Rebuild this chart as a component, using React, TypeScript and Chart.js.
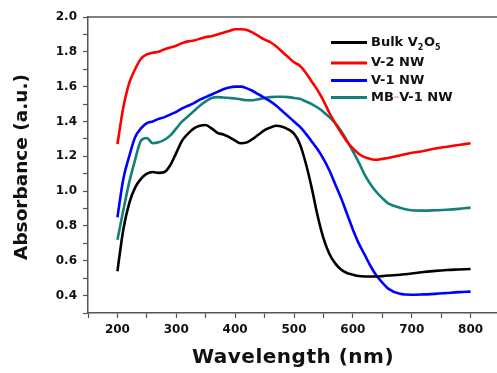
import React, { useEffect, useRef } from "react";
import { Chart, registerables } from "chart.js";

Chart.register(...registerables);

const wavelengths = [
  200, 210, 220, 230, 240, 250, 260, 270, 280, 290, 300, 310, 320, 330, 340, 350, 360, 370, 380, 390,
  400, 410, 420, 430, 440, 450, 460, 470, 480, 490, 500, 510, 520, 530, 540, 550, 560, 570, 580, 590,
  600, 610, 620, 630, 640, 650, 660, 680, 700, 720, 740, 760, 780, 800,
];

const bulkV2O5 = [
  0.54, 0.78, 0.93, 1.02, 1.07, 1.1, 1.11, 1.105, 1.11, 1.15, 1.22, 1.29, 1.33, 1.36, 1.375, 1.38, 1.36, 1.335, 1.325, 1.31,
  1.29, 1.275, 1.28, 1.3, 1.325, 1.35, 1.365, 1.375, 1.37, 1.355, 1.33, 1.27, 1.16, 1.02, 0.86, 0.73, 0.64, 0.585, 0.55, 0.53,
  0.52, 0.512, 0.51, 0.51, 0.51, 0.512, 0.515, 0.52, 0.527, 0.535, 0.542, 0.547, 0.55, 0.553,
];

const v2NW = [
  1.27, 1.48, 1.62, 1.7, 1.76, 1.785, 1.795, 1.8, 1.815, 1.825, 1.835, 1.85, 1.86, 1.865, 1.875, 1.885, 1.89, 1.9, 1.91, 1.92,
  1.93, 1.93, 1.925, 1.91, 1.89, 1.87, 1.855, 1.83, 1.8, 1.77, 1.74, 1.72, 1.68, 1.63, 1.58, 1.52, 1.45, 1.39, 1.335, 1.285,
  1.245, 1.215, 1.195, 1.185, 1.18, 1.185, 1.19, 1.205, 1.22, 1.23, 1.245, 1.255, 1.265, 1.275,
];

const v1NW = [
  0.85, 1.07, 1.2, 1.31, 1.36, 1.39, 1.4, 1.415, 1.425, 1.44, 1.455, 1.475, 1.49, 1.505, 1.525, 1.54, 1.555, 1.57, 1.585, 1.595,
  1.6, 1.6, 1.59, 1.575, 1.555, 1.535, 1.515, 1.49, 1.46, 1.43, 1.4, 1.37, 1.33, 1.285, 1.24, 1.185, 1.12, 1.04, 0.96, 0.87,
  0.78, 0.7, 0.635, 0.57, 0.515, 0.475, 0.44, 0.41, 0.405, 0.407, 0.41, 0.415, 0.42, 0.423,
];

const mbV1NW = [
  0.72, 0.89, 1.05, 1.18, 1.29, 1.305, 1.275, 1.28, 1.295, 1.32, 1.36, 1.4, 1.43, 1.46, 1.49, 1.515, 1.535, 1.54, 1.538, 1.535,
  1.532, 1.527, 1.522, 1.522, 1.528, 1.535, 1.54, 1.542, 1.542, 1.54, 1.535, 1.53, 1.515, 1.5, 1.48, 1.455, 1.425, 1.39, 1.345, 1.29,
  1.23, 1.165, 1.095, 1.04, 0.995, 0.96, 0.93, 0.905, 0.89, 0.888, 0.89, 0.893, 0.898, 0.905,
];

const seriesNames = ["Bulk V2O5", "V-2 NW", "V-1 NW", "MB-V-1 NW"];
const seriesColors = ["#000000", "#ff0000", "#0000ff", "#12807a"];
const seriesValues = [bulkV2O5, v2NW, v1NW, mbV1NW];

const xTitle = "Wavelength (nm)";
const yTitle = "Absorbance (a.u.)";

const FONT = "'DejaVu Sans', 'Liberation Sans', Arial, sans-serif";

const decorPlugin = {
  id: "decor",
  afterDraw(chart: any) {
    const ctx = chart.ctx as CanvasRenderingContext2D;
    const area = chart.chartArea;
    ctx.save();
    // top frame line
    ctx.strokeStyle = "#555555";
    ctx.lineWidth = 1.5;
    ctx.beginPath();
    ctx.moveTo(area.left, area.top);
    ctx.lineTo(area.right, area.top);
    ctx.stroke();

    // axis titles
    ctx.fillStyle = "#111111";
    ctx.textAlign = "center";
    ctx.textBaseline = "middle";
    ctx.font = `bold 20px ${FONT}`;
    (ctx as any).letterSpacing = "0.5px";
    ctx.fillText(xTitle, 293, 358);
    (ctx as any).letterSpacing = "0px";
    ctx.save();
    ctx.translate(22, 167);
    ctx.rotate(-Math.PI / 2);
    ctx.font = `bold 18.5px ${FONT}`;
    ctx.fillText(yTitle, 0, 0);
    ctx.restore();

    // legend
    const rows = [42.5, 63, 80.5, 97.5];
    const lx0 = 331;
    const lx1 = 367;
    const tx = 371;
    ctx.textAlign = "left";
    ctx.textBaseline = "middle";
    for (let i = 0; i < seriesNames.length; i++) {
      const y = rows[i];
      ctx.strokeStyle = seriesColors[i];
      ctx.lineWidth = 3;
      ctx.beginPath();
      ctx.moveTo(lx0, y);
      ctx.lineTo(lx1, y);
      ctx.stroke();
      ctx.fillStyle = "#111111";
      if (i === 0) {
        let x = tx;
        const big = `bold 13px ${FONT}`;
        const small = `bold 8px ${FONT}`;
        const parts: [string, boolean][] = [["Bulk V", false], ["2", true], ["O", false], ["5", true]];
        for (const [t, sub] of parts) {
          ctx.font = sub ? small : big;
          ctx.fillText(t, x, sub ? y + 5 : y);
          x += ctx.measureText(t).width + (sub ? 0.5 : 0);
        }
      } else if (i === 3) {
        ctx.font = `bold 13px ${FONT}`;
        let x = tx;
        const parts: [string, string][] = [["MB", "#111111"], ["-", "#f0a8b8"], ["V-1 NW", "#111111"]];
        for (const [t, c] of parts) {
          ctx.fillStyle = c;
          ctx.fillText(t, x, y);
          x += ctx.measureText(t).width;
        }
      } else {
        ctx.font = `bold 13px ${FONT}`;
        ctx.fillText(seriesNames[i], tx, y);
      }
    }
    ctx.restore();
  },
};

export default function App() {
  const ref = useRef<HTMLCanvasElement | null>(null);

  useEffect(() => {
    if (!ref.current) return;
    const datasets = seriesValues.map((vals, i) => ({
      label: seriesNames[i],
      data: wavelengths.map((w, j) => ({ x: w, y: vals[j] })),
      borderColor: seriesColors[i],
      backgroundColor: seriesColors[i],
      borderWidth: 2.6,
      pointRadius: 0,
      cubicInterpolationMode: "monotone" as const,
      fill: false,
    }));

    const chart = new Chart(ref.current, {
      type: "line",
      data: { datasets },
      options: {
        animation: false,
        responsive: false,
        devicePixelRatio: 1,
        layout: { padding: { left: 0, right: 4, top: 17, bottom: 0 } },
        plugins: {
          legend: { display: false },
          tooltip: { enabled: false },
          title: { display: false },
        },
        scales: {
          x: {
            type: "linear",
            min: 150,
            max: 850,
            afterFit: (s: any) => {
              s.height = 60;
            },
            border: { display: true, color: "#555555", width: 1.5 },
            grid: {
              drawOnChartArea: false,
              drawTicks: true,
              tickLength: 5,
              tickColor: "#555555",
              tickWidth: 1.2,
            },
            ticks: {
              stepSize: 50,
              autoSkip: false,
              maxRotation: 0,
              padding: 5,
              color: "#111111",
              font: { family: FONT, size: 12, weight: "bold" },
              callback: (v: any) => (Math.round(Number(v)) % 100 === 0 && Number(v) >= 200 && Number(v) <= 800 ? String(Math.round(Number(v))) : ""),
            },
          },
          y: {
            type: "linear",
            min: 0.3,
            max: 2.0,
            afterFit: (s: any) => {
              s.width = 88;
            },
            border: { display: true, color: "#555555", width: 1.5 },
            grid: {
              drawOnChartArea: false,
              drawTicks: true,
              tickLength: 5,
              tickColor: "#555555",
              tickWidth: 1.2,
            },
            ticks: {
              stepSize: 0.1,
              autoSkip: false,
              padding: 6,
              color: "#111111",
              font: { family: FONT, size: 12, weight: "bold" },
              callback: (v: any) => {
                const t = Math.round(Number(v) * 10);
                return t % 2 === 0 && t >= 4 ? (t / 10).toFixed(1) : "";
              },
            },
          },
        },
      },
      plugins: [decorPlugin],
    });
    return () => chart.destroy();
  }, []);

  return (
    <canvas
      ref={ref}
      width={505}
      height={373}
      style={{ position: "fixed", left: 0, top: 0, width: 505, height: 373, background: "#ffffff" }}
    />
  );
}
